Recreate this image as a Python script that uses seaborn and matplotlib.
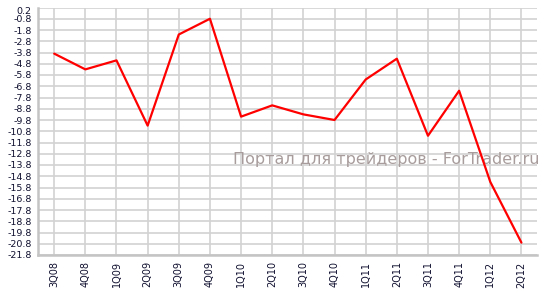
import matplotlib
matplotlib.use("Agg")
import matplotlib.pyplot as plt
import seaborn as sns
import numpy as np
import pandas as pd

quarters = ["3Q08", "4Q08", "1Q09", "2Q09", "3Q09", "4Q09", "1Q10", "2Q10",
            "3Q10", "4Q10", "1Q11", "2Q11", "3Q11", "4Q11", "1Q12", "2Q12"]
values = [-3.9, -5.3, -4.5, -10.3, -2.2, -0.8, -9.5, -8.5,
          -9.3, -9.8, -6.2, -4.35, -11.2, -7.2, -15.3, -20.7]
y_ticks = [round(0.2 - i, 1) for i in range(23)]
watermark = "Портал для трейдеров - ForTrader.ru"

sns.set_theme(style="white")
plt.rcParams['font.family'] = ['DejaVu Sans']

fig = plt.figure(figsize=(5.49, 2.97), dpi=100)
ax = fig.add_axes([38/549, 1-255/297, (537-38)/549, (255-7.5)/297])

df = pd.DataFrame({"pos": np.arange(len(quarters)), "val": values})

ax.set_xlim(-0.52, 15.5)
ax.set_ylim(-21.8, 0.2)
ax.set_yticks(y_ticks)
ax.set_yticklabels([f"{v:.1f}" for v in y_ticks])
ax.set_xticks(df["pos"])
ax.set_xticklabels(quarters, rotation=90)

ax.grid(True, color="#d2d2d2", linewidth=1.2)
ax.set_axisbelow(True)

ax.text(1.006, 0.384, watermark, transform=ax.transAxes, ha="right", va="center",
        fontsize=11.5, color="#a89c9c", zorder=1)

sns.lineplot(data=df, x="pos", y="val", color="#ff0000", linewidth=1.6, ax=ax, zorder=3)
ax.set_xlabel("")
ax.set_ylabel("")

for s in ["top", "right"]:
    ax.spines[s].set_visible(False)
for s in ["left", "bottom"]:
    ax.spines[s].set_color("#c4c4c4")
    ax.spines[s].set_linewidth(1.8)

ax.tick_params(axis="both", which="both", length=3, width=1, color="#c4c4c4",
               labelsize=7, labelcolor="#101030", pad=1.5)
ax.tick_params(axis="y", labelsize=6.8)
labels = ax.get_yticklabels()
labels[0].set_verticalalignment("top")

fig.savefig("out.png", dpi=100, facecolor="white")
